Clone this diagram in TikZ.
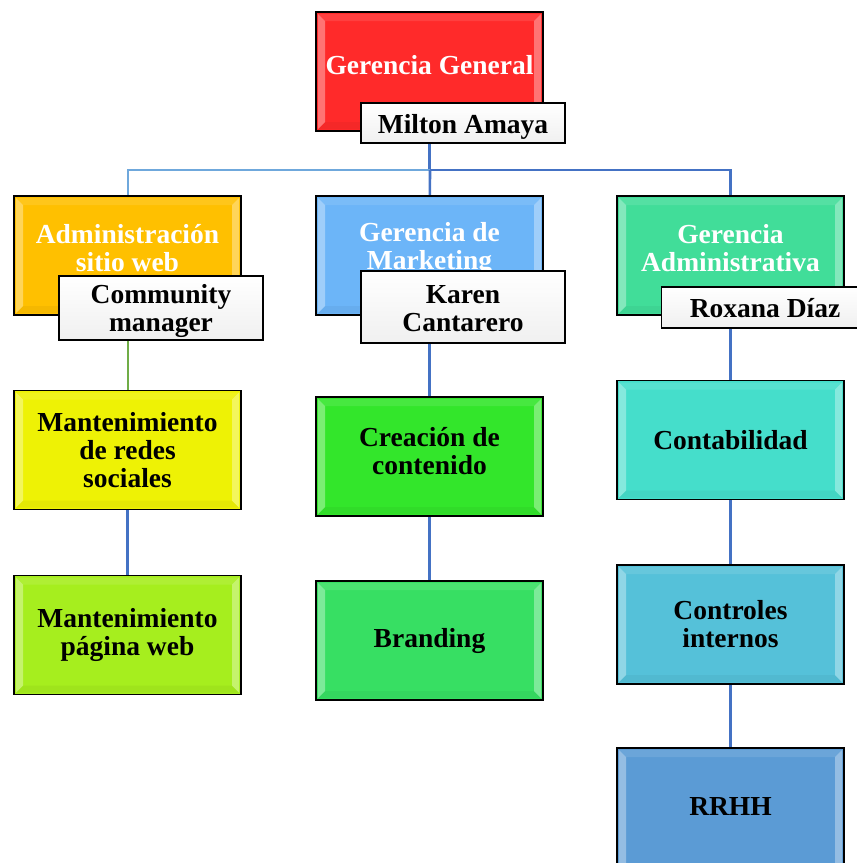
\documentclass[tikz,border=0pt]{standalone}
\usepackage{fontspec}
\setmainfont{Liberation Serif}
\usetikzlibrary{calc}
\pgfdeclarelayer{background}
\pgfsetlayers{background,main}
\definecolor{cRed}{HTML}{FF2A2A}
\definecolor{cOrange}{HTML}{FFC000}
\definecolor{cSky}{HTML}{6CB5F8}
\definecolor{cMint}{HTML}{41DD99}
\definecolor{cYellow}{HTML}{EEF205}
\definecolor{cLime}{HTML}{33E62B}
\definecolor{cTurq}{HTML}{45DECB}
\definecolor{cYG}{HTML}{A6EE1E}
\definecolor{cEmer}{HTML}{37DF63}
\definecolor{cCyan}{HTML}{55C1D9}
\definecolor{cSteel}{HTML}{5B9BD5}
\definecolor{lnBlue}{HTML}{4472C4}
\definecolor{lnLight}{HTML}{6FA8DC}
\definecolor{lnGreen}{HTML}{70AD47}
\tikzset{
  orgbox/.style={draw=black, line width=1.4pt, minimum width=227pt, minimum height=119pt,
    inner sep=0pt, align=center, font=\fontsize{27.5}{28}\selectfont\bfseries,
    path picture={
      \fill[white,opacity=0.35] ([shift={(2pt,-2pt)}]path picture bounding box.north west) -- ([shift={(9pt,-9pt)}]path picture bounding box.north west) -- ([shift={(9pt,9pt)}]path picture bounding box.south west) -- ([shift={(2pt,2pt)}]path picture bounding box.south west) -- cycle;
      \fill[white,opacity=0.35] ([shift={(-2pt,-2pt)}]path picture bounding box.north east) -- ([shift={(-9pt,-9pt)}]path picture bounding box.north east) -- ([shift={(-9pt,9pt)}]path picture bounding box.south east) -- ([shift={(-2pt,2pt)}]path picture bounding box.south east) -- cycle;
      \fill[white,opacity=0.10] ([shift={(2pt,-2pt)}]path picture bounding box.north west) -- ([shift={(9pt,-9pt)}]path picture bounding box.north west) -- ([shift={(-9pt,-9pt)}]path picture bounding box.north east) -- ([shift={(-2pt,-2pt)}]path picture bounding box.north east) -- cycle;
      \fill[black,opacity=0.04] ([shift={(2pt,2pt)}]path picture bounding box.south west) -- ([shift={(9pt,9pt)}]path picture bounding box.south west) -- ([shift={(-9pt,9pt)}]path picture bounding box.south east) -- ([shift={(-2pt,2pt)}]path picture bounding box.south east) -- cycle;
    }},
  boxtext/.style={align=center, inner sep=0pt, font=\fontsize{27.5}{28}\selectfont\bfseries},
  namebox/.style={draw=black, line width=1.4pt, top color=white, bottom color=black!6,
    inner sep=0pt},
  conn/.style={line width=2.6pt, draw=lnBlue},
  connlight/.style={line width=2pt, draw=lnLight},
}
\begin{document}
\begin{tikzpicture}[x=1pt,y=-1pt]
\useasboundingbox (0,0) rectangle (857,863);
\coordinate (jc) at (430,170);
\coordinate (jl) at (127.5,170);
\coordinate (jr) at (730.5,170);
% boxes
\node[orgbox, fill=cRed] (gg) at (429.5,71.5) {};
\node[orgbox, fill=cOrange] (adm) at (127.5,255.5) {};
\node[orgbox, fill=cSky] (mkt) at (429.5,255.5) {};
\node[orgbox, fill=cMint] (gad) at (730.5,255.5) {};
\node[orgbox, fill=cYellow] (redes) at (127.5,450) {Mantenimiento\\de redes\\sociales};
\node[orgbox, fill=cLime] (crea) at (429.5,456.5) {};
\node[boxtext] (creat) at (429.5,451.5) {Creación de\\contenido};
\node[orgbox, fill=cTurq] (cont) at (730.5,440) {Contabilidad};
\node[orgbox, fill=cYG] (pweb) at (127.5,635) {Mantenimiento\\página web};
\node[orgbox, fill=cEmer] (brand) at (429.5,640.5) {Branding};
\node[orgbox, fill=cCyan] (ctrl) at (730.5,624.5) {Controles\\internos};
\node[orgbox, fill=cSteel, minimum height=124pt] (rrhh) at (730.5,810) {};
\node[boxtext] (rrhht) at (730.5,806) {RRHH};
% titles
\node[boxtext, text=white] (ggt) at (429.5,65) {Gerencia General};
\node[boxtext, text=white] (admt) at (127.5,248.5) {Administración\\sitio web};
\node[boxtext, text=white] (mktt) at (429.5,248.5) {Gerencia de\\Marketing};
\node[boxtext, text=white] (gadt) at (730.5,248.5) {Gerencia\\Administrativa};
% name labels
\node[namebox, minimum width=204pt, minimum height=40pt] (milton) at (463,123) {};
\node[boxtext] (miltont) at (463,127) {Milton Amaya};
\node[namebox, minimum width=204pt, minimum height=64pt] (cm) at (161,308) {};
\node[boxtext] (cmt) at (161,311) {Community\\manager};
\node[namebox, minimum width=204pt, minimum height=72pt] (karen) at (463,307) {};
\node[boxtext] (karent) at (463,309) {Karen\\Cantarero};
\node[namebox, minimum width=200pt, minimum height=41pt, anchor=west] (roxana) at (661,307.5) {};
\node[boxtext] (roxanat) at (765,308) {Roxana Díaz};
% connector lines
\begin{pgfonlayer}{background}
\draw[conn] (gg) -- (gg |- jc);
\draw[connlight] (jc) -- (jl) -- (adm);
\draw[conn] (jc) -- (jr) -- (gad);
\draw[conn] (jc) -- (mkt);
\draw[conn, draw=lnGreen, line width=2pt] (adm) -- (redes);
\draw[conn] (redes) -- (pweb);
\draw[conn] (mkt) -- (crea);
\draw[conn] (crea) -- (brand);
\draw[conn] (gad) -- (cont);
\draw[conn] (cont) -- (ctrl);
\draw[conn] (ctrl) -- (rrhh);
\end{pgfonlayer}
\end{tikzpicture}
\end{document}
